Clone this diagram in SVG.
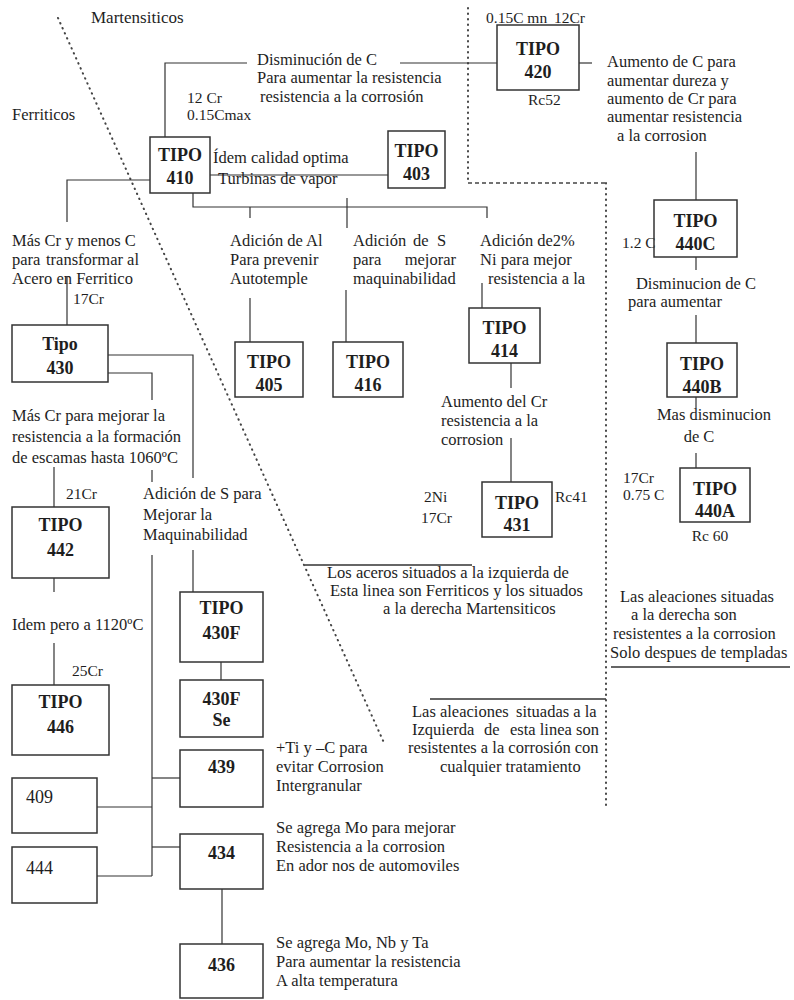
<svg xmlns="http://www.w3.org/2000/svg" width="794" height="1000" viewBox="0 0 794 1000">
<style>
.kbx{fill:none;stroke:#333;stroke-width:1.5}
.klb{font-family:'Liberation Serif',serif;font-size:16.5px;fill:#1e1e1e}
.ksm{font-family:'Liberation Serif',serif;font-size:15.5px;fill:#1e1e1e}
.ktl{font-family:'Liberation Serif',serif;font-size:18px;font-weight:bold;fill:#1e1e1e;text-anchor:middle}
.knm{font-family:'Liberation Serif',serif;font-size:18px;fill:#1e1e1e}
.kcn{fill:none;stroke:#333;stroke-width:1.2}
.kdt{fill:none;stroke:#444;stroke-width:2;stroke-linecap:round;stroke-dasharray:0.5 5}
.kds{fill:none;stroke:#444;stroke-width:1.3;stroke-dasharray:4 3}
.ksl{fill:none;stroke:#333;stroke-width:1.3}
</style>
<rect width="794" height="1000" fill="#ffffff"/>

<g id="dividers">
<path class="kdt" d="M58,18 L385,745"/>
<path class="kdt" d="M468,8 V183"/>
<path class="kds" d="M468,183 H606"/>
<path class="kdt" d="M606,183 V805"/>
<path class="ksl" d="M305,565 H472"/>
<path class="ksl" d="M430,699 H606"/>
<path class="ksl" d="M611,667 H790"/>
</g>

<g id="connectors">
<path class="kcn" d="M165,137 V63 H247"/>
<path class="kcn" d="M400,63 H497"/>
<path class="kcn" d="M579,63 H592"/>
<path class="kcn" d="M696,152 V200"/>
<path class="kcn" d="M696,257 V270"/>
<path class="kcn" d="M696,315 V343"/>
<path class="kcn" d="M696,397 V408"/>
<path class="kcn" d="M696,453 V468"/>
<path class="kcn" d="M210,175 H388"/>
<path class="kcn" d="M193,193 V207 H487 V218"/>
<path class="kcn" d="M250,207 V218"/>
<path class="kcn" d="M347,198 V228"/>
<path class="kcn" d="M150,180 H67 V222"/>
<path class="kcn" d="M67,276 V325"/>
<path class="kcn" d="M250,298 V342"/>
<path class="kcn" d="M346,290 V342"/>
<path class="kcn" d="M482,283 V308"/>
<path class="kcn" d="M511,363 V388"/>
<path class="kcn" d="M511,438 V482"/>
<path class="kcn" d="M108,355 H193 V478"/>
<path class="kcn" d="M108,373 H152 V400"/>
<path class="kcn" d="M152,470 V482"/>
<path class="kcn" d="M54,467 V507"/>
<path class="kcn" d="M54,578 V592"/>
<path class="kcn" d="M54,643 V685"/>
<path class="kcn" d="M193,550 V592"/>
<path class="kcn" d="M221,662 V680"/>
<path class="kcn" d="M152,555 V876"/>
<path class="kcn" d="M152,778 H180"/>
<path class="kcn" d="M97,807 H152"/>
<path class="kcn" d="M152,847 H180"/>
<path class="kcn" d="M97,876 H152"/>
<path class="kcn" d="M222,889 V944"/>
</g>

<g id="labels">
<text style="font-family:'Liberation Serif',serif;font-size:17px" class="klb" x="91" y="23">Martensiticos</text>
<text style="font-family:'Liberation Serif',serif" class="klb" x="12" y="120">Ferriticos</text>
<text style="font-family:'Liberation Serif',serif" class="klb" x="257" y="65">Disminución de C</text>
<text style="font-family:'Liberation Serif',serif" class="klb" x="257" y="83">Para aumentar la resistencia</text>
<text style="font-family:'Liberation Serif',serif" class="klb" x="260" y="102">resistencia a la corrosión</text>
<text style="font-family:'Liberation Serif',serif" class="ksm" x="187" y="103">12 Cr</text>
<text style="font-family:'Liberation Serif',serif" class="ksm" x="187" y="120">0.15Cmax</text>
<text style="font-family:'Liberation Serif',serif" class="ksm" y="23"><tspan x="486">0.15C mn</tspan><tspan x="554">12Cr</tspan></text>
<text style="font-family:'Liberation Serif',serif" class="ksm" x="528" y="105">Rc52</text>
<text style="font-family:'Liberation Serif',serif" class="klb" x="607" y="67">Aumento de C para</text>
<text style="font-family:'Liberation Serif',serif" class="klb" x="607" y="86">aumentar dureza y</text>
<text style="font-family:'Liberation Serif',serif" class="klb" x="607" y="104">aumento de Cr para</text>
<text style="font-family:'Liberation Serif',serif" class="klb" x="607" y="122">aumentar resistencia</text>
<text style="font-family:'Liberation Serif',serif" class="klb" x="617" y="141">a la corrosion</text>
<text style="font-family:'Liberation Serif',serif" class="klb" x="213" y="163">Ídem calidad optima</text>
<text style="font-family:'Liberation Serif',serif" class="klb" x="218" y="184">Turbinas de vapor</text>
<text style="font-family:'Liberation Serif',serif" class="ksm" x="622" y="248">1.2 C</text>
<text style="font-family:'Liberation Serif',serif" class="klb" x="696" y="289" text-anchor="middle">Disminucion de C</text>
<text style="font-family:'Liberation Serif',serif" class="klb" x="628" y="307">para aumentar</text>
<text style="font-family:'Liberation Serif',serif" class="klb" x="714" y="420" text-anchor="middle">Mas disminucion</text>
<text style="font-family:'Liberation Serif',serif" class="klb" x="699" y="442" text-anchor="middle">de C</text>
<text style="font-family:'Liberation Serif',serif" class="ksm" x="623" y="483">17Cr</text>
<text style="font-family:'Liberation Serif',serif" class="ksm" x="623" y="500">0.75 C</text>
<text style="font-family:'Liberation Serif',serif" class="ksm" x="710" y="541" text-anchor="middle">Rc 60</text>
<text style="font-family:'Liberation Serif',serif" class="klb" x="620" y="602">Las aleaciones situadas</text>
<text style="font-family:'Liberation Serif',serif" class="klb" x="631" y="620">a la derecha son</text>
<text style="font-family:'Liberation Serif',serif" class="klb" x="613" y="639">resistentes a la corrosion</text>
<text style="font-family:'Liberation Serif',serif" class="klb" x="610" y="658">Solo despues de templadas</text>
<text style="font-family:'Liberation Serif',serif" class="klb" x="12" y="246">Más Cr y menos C</text>
<text style="font-family:'Liberation Serif',serif" class="klb" y="265"><tspan x="12">para</tspan><tspan x="46">transformar al</tspan></text>
<text style="font-family:'Liberation Serif',serif" class="klb" x="12" y="284">Acero en Ferritico</text>
<text style="font-family:'Liberation Serif',serif" class="ksm" x="73" y="304">17Cr</text>
<text style="font-family:'Liberation Serif',serif" class="klb" x="230" y="246">Adición de Al</text>
<text style="font-family:'Liberation Serif',serif" class="klb" x="230" y="265">Para prevenir</text>
<text style="font-family:'Liberation Serif',serif" class="klb" x="230" y="284">Autotemple</text>
<text style="font-family:'Liberation Serif',serif" class="klb" y="246"><tspan x="353">Adición</tspan><tspan x="413">de</tspan><tspan x="437">S</tspan></text>
<text style="font-family:'Liberation Serif',serif" class="klb" y="265"><tspan x="353">para</tspan><tspan x="456" text-anchor="end">mejorar</tspan></text>
<text style="font-family:'Liberation Serif',serif" class="klb" x="353" y="284">maquinabilidad</text>
<text style="font-family:'Liberation Serif',serif" class="klb" x="480" y="246">Adición de2%</text>
<text style="font-family:'Liberation Serif',serif" class="klb" x="480" y="265">Ni para mejor</text>
<text style="font-family:'Liberation Serif',serif" class="klb" x="488" y="284">resistencia a la</text>
<text style="font-family:'Liberation Serif',serif" class="klb" x="441" y="407">Aumento del Cr</text>
<text style="font-family:'Liberation Serif',serif" class="klb" x="441" y="426">resistencia a la</text>
<text style="font-family:'Liberation Serif',serif" class="klb" x="441" y="445">corrosion</text>
<text style="font-family:'Liberation Serif',serif" class="ksm" x="424" y="502">2Ni</text>
<text style="font-family:'Liberation Serif',serif" class="ksm" x="421" y="523">17Cr</text>
<text style="font-family:'Liberation Serif',serif" class="ksm" x="555" y="502">Rc41</text>
<text style="font-family:'Liberation Serif',serif" class="klb" x="327" y="578">Los aceros situados a la izquierda de</text>
<text style="font-family:'Liberation Serif',serif" class="klb" x="330" y="596">Esta linea son Ferriticos y los situados</text>
<text style="font-family:'Liberation Serif',serif" class="klb" x="383" y="614">a la derecha Martensiticos</text>
<text style="font-family:'Liberation Serif',serif" class="klb" x="12" y="421">Más Cr para mejorar la</text>
<text style="font-family:'Liberation Serif',serif" class="klb" x="12" y="442">resistencia a la formación</text>
<text style="font-family:'Liberation Serif',serif" class="klb" x="12" y="463">de escamas hasta 1060ºC</text>
<text style="font-family:'Liberation Serif',serif" class="ksm" x="66" y="499">21Cr</text>
<text style="font-family:'Liberation Serif',serif" class="klb" x="143" y="499">Adición de S para</text>
<text style="font-family:'Liberation Serif',serif" class="klb" x="143" y="520">Mejorar la</text>
<text style="font-family:'Liberation Serif',serif" class="klb" x="143" y="540">Maquinabilidad</text>
<text style="font-family:'Liberation Serif',serif" class="klb" x="12" y="630">Idem pero a 1120ºC</text>
<text style="font-family:'Liberation Serif',serif" class="ksm" x="72" y="676">25Cr</text>
<text style="font-family:'Liberation Serif',serif" class="klb" y="717"><tspan x="412">Las aleaciones</tspan><tspan x="516">situadas a la</tspan></text>
<text style="font-family:'Liberation Serif',serif" class="klb" y="735"><tspan x="412">Izquierda</tspan><tspan x="484">de</tspan><tspan x="510">esta linea son</tspan></text>
<text style="font-family:'Liberation Serif',serif" class="klb" x="408" y="753">resistentes a la corrosión con</text>
<text style="font-family:'Liberation Serif',serif" class="klb" x="440" y="772">cualquier tratamiento</text>
<text style="font-family:'Liberation Serif',serif" class="klb" x="276" y="753">+Ti y –C para</text>
<text style="font-family:'Liberation Serif',serif" class="klb" x="276" y="772">evitar Corrosion</text>
<text style="font-family:'Liberation Serif',serif" class="klb" x="276" y="791">Intergranular</text>
<text style="font-family:'Liberation Serif',serif" class="klb" x="276" y="833">Se agrega Mo para mejorar</text>
<text style="font-family:'Liberation Serif',serif" class="klb" x="276" y="852">Resistencia a la corrosion</text>
<text style="font-family:'Liberation Serif',serif" class="klb" x="276" y="871">En ador nos de automoviles</text>
<text style="font-family:'Liberation Serif',serif" class="klb" x="276" y="948">Se agrega Mo, Nb y Ta</text>
<text style="font-family:'Liberation Serif',serif" class="klb" x="276" y="967">Para aumentar la resistencia</text>
<text style="font-family:'Liberation Serif',serif" class="klb" x="276" y="986">A alta temperatura</text>
</g>

<g id="n410"><rect class="kbx" x="150" y="137" width="60" height="56"/><text style="font-family:'Liberation Serif',serif" class="ktl" x="180" y="161">TIPO</text><text style="font-family:'Liberation Serif',serif" class="ktl" x="180" y="184">410</text></g>
<g id="n420"><rect class="kbx" x="497" y="25" width="82" height="65"/><text style="font-family:'Liberation Serif',serif" class="ktl" x="538" y="55">TIPO</text><text style="font-family:'Liberation Serif',serif" class="ktl" x="538" y="78">420</text></g>
<g id="n403"><rect class="kbx" x="388" y="131" width="57" height="57"/><text style="font-family:'Liberation Serif',serif" class="ktl" x="416.5" y="157">TIPO</text><text style="font-family:'Liberation Serif',serif" class="ktl" x="416.5" y="180">403</text></g>
<g id="n440C"><rect class="kbx" x="654" y="200" width="83" height="57"/><text style="font-family:'Liberation Serif',serif" class="ktl" x="695.5" y="227">TIPO</text><text style="font-family:'Liberation Serif',serif" class="ktl" x="695.5" y="250">440C</text></g>
<g id="n440B"><rect class="kbx" x="667" y="343" width="70" height="54"/><text style="font-family:'Liberation Serif',serif" class="ktl" x="702" y="370">TIPO</text><text style="font-family:'Liberation Serif',serif" class="ktl" x="702" y="393">440B</text></g>
<g id="n440A"><rect class="kbx" x="680" y="468" width="70" height="54"/><text style="font-family:'Liberation Serif',serif" class="ktl" x="715" y="495">TIPO</text><text style="font-family:'Liberation Serif',serif" class="ktl" x="715" y="517">440A</text></g>
<g id="n405"><rect class="kbx" x="235" y="342" width="68" height="55"/><text style="font-family:'Liberation Serif',serif" class="ktl" x="269" y="368">TIPO</text><text style="font-family:'Liberation Serif',serif" class="ktl" x="269" y="391">405</text></g>
<g id="n416"><rect class="kbx" x="333" y="342" width="70" height="55"/><text style="font-family:'Liberation Serif',serif" class="ktl" x="368" y="368">TIPO</text><text style="font-family:'Liberation Serif',serif" class="ktl" x="368" y="391">416</text></g>
<g id="n414"><rect class="kbx" x="469" y="308" width="71" height="55"/><text style="font-family:'Liberation Serif',serif" class="ktl" x="504.5" y="334">TIPO</text><text style="font-family:'Liberation Serif',serif" class="ktl" x="504.5" y="357">414</text></g>
<g id="n431"><rect class="kbx" x="482" y="482" width="70" height="55"/><text style="font-family:'Liberation Serif',serif" class="ktl" x="517" y="509">TIPO</text><text style="font-family:'Liberation Serif',serif" class="ktl" x="517" y="531">431</text></g>
<g id="n430"><rect class="kbx" x="12" y="325" width="96" height="57"/><text style="font-family:'Liberation Serif',serif" class="ktl" x="60" y="350">Tipo</text><text style="font-family:'Liberation Serif',serif" class="ktl" x="60" y="374">430</text></g>
<g id="n442"><rect class="kbx" x="12" y="507" width="97" height="71"/><text style="font-family:'Liberation Serif',serif" class="ktl" x="60.5" y="531">TIPO</text><text style="font-family:'Liberation Serif',serif" class="ktl" x="60.5" y="556">442</text></g>
<g id="n446"><rect class="kbx" x="12" y="685" width="97" height="70"/><text style="font-family:'Liberation Serif',serif" class="ktl" x="60.5" y="708">TIPO</text><text style="font-family:'Liberation Serif',serif" class="ktl" x="60.5" y="733">446</text></g>
<g id="n430F"><rect class="kbx" x="180" y="592" width="83" height="70"/><text style="font-family:'Liberation Serif',serif" class="ktl" x="221.5" y="614">TIPO</text><text style="font-family:'Liberation Serif',serif" class="ktl" x="221.5" y="639">430F</text></g>
<g id="n430FSe"><rect class="kbx" x="180" y="680" width="83" height="57"/><text style="font-family:'Liberation Serif',serif" class="ktl" x="221.5" y="705">430F</text><text style="font-family:'Liberation Serif',serif" class="ktl" x="221.5" y="726">Se</text></g>
<g id="n439"><rect class="kbx" x="180" y="750" width="83" height="57"/><text style="font-family:'Liberation Serif',serif" class="ktl" x="221.5" y="773">439</text></g>
<g id="n409"><rect class="kbx" x="12" y="778" width="85" height="55"/><text style="font-family:'Liberation Serif',serif" class="knm" x="26" y="803">409</text></g>
<g id="n444"><rect class="kbx" x="12" y="847" width="85" height="56"/><text style="font-family:'Liberation Serif',serif" class="knm" x="26" y="874">444</text></g>
<g id="n434"><rect class="kbx" x="180" y="834" width="83" height="55"/><text style="font-family:'Liberation Serif',serif" class="ktl" x="221.5" y="859">434</text></g>
<g id="n436"><rect class="kbx" x="180" y="944" width="83" height="54"/><text style="font-family:'Liberation Serif',serif" class="ktl" x="221.5" y="971">436</text></g>
</svg>
